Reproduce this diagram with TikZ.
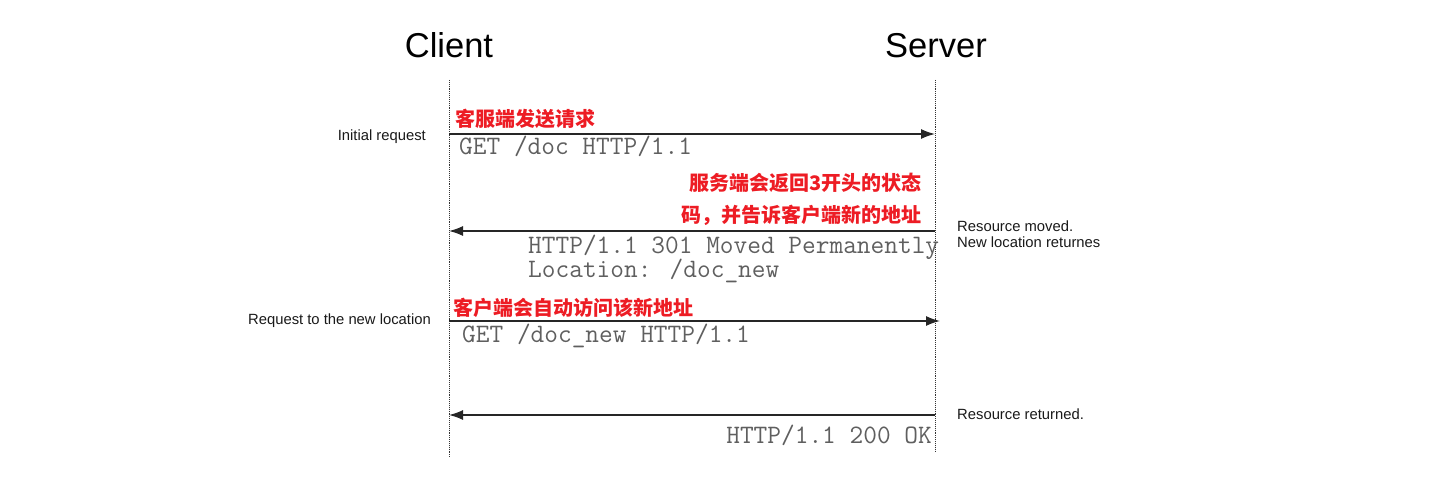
\documentclass[tikz,border=0pt]{standalone}
\usepackage{fontspec}
\setmainfont{Liberation Sans}
\newfontfamily\cjk{Noto Sans CJK SC}
\usetikzlibrary{arrows.meta}
\definecolor{redtxt}{RGB}{237,28,36}
\definecolor{codegray}{RGB}{95,95,95}
\tikzset{
 lifeline/.style={line width=0.9pt, densely dotted, draw=black!80},
 msg/.style={line width=1.4pt, draw=black!85, -{Latex[length=14pt,width=10pt]}},
 title/.style={font=\fontsize{34.5}{40}\selectfont, inner sep=0pt, anchor=base},
 note/.style={font=\fontsize{14.8}{17}\selectfont, inner sep=0pt, text=black!90},
 code/.style={font=\ttfamily\fontsize{26.6}{30}\selectfont, inner sep=0pt, text=codegray, anchor=base west},
 cn/.style={font=\cjk\bfseries\fontsize{20}{24}\selectfont, inner sep=0pt, text=redtxt},
}
\begin{document}
\begin{tikzpicture}[x=1pt,y=-1pt]
\useasboundingbox (0,0) rectangle (1434,497);
% titles
\node[title] (client) at (449,58) {Client};
\node[title] (server) at (936,58) {Server};
% lifelines
\coordinate (cTop) at (449,80); \coordinate (cBot) at (449,458);
\coordinate (sTop) at (935,80); \coordinate (sBot) at (935,452);
\draw[lifeline] (cTop) -- (cBot);
\draw[lifeline] (sTop) -- (sBot);
% message 1
\coordinate (c1) at (449,134); \coordinate (s1) at (935,134);
\draw[msg] (c1) -- (s1);
\node[cn, anchor=west] (r1) at (455,119) {客服端发送请求};
\node[code] (g1) at (459,155) {GET /doc HTTP/1.1};
\node[note, anchor=east] (n1) at (426,137) {Initial request};
% message 2
\coordinate (c2) at (449,231); \coordinate (s2) at (935,231);
\draw[msg] (s2) -- (c2);
\node[cn, anchor=east] (r2a) at (922,183) {服务端会返回3开头的状态};
\node[cn, anchor=east] (r2b) at (922,215) {码，并告诉客户端新的地址};
\node[code] (g2a) at (528,253) {HTTP/1.1 301 Moved Permanently};
\node[code] (g2b) at (528,277) {Location: /doc\_new};
\node[note, anchor=west] (n2a) at (957,226) {Resource moved.};
\node[note, anchor=west] (n2b) at (957,242) {New location returnes};
% message 3
\coordinate (c3) at (449,321); \coordinate (s3) at (940,321);
\draw[msg] (c3) -- (s3);
\node[cn, anchor=west] (r3) at (453,308) {客户端会自动访问该新地址};
\node[code] (g3) at (462,342) {GET /doc\_new HTTP/1.1};
\node[note, anchor=east] (n3) at (431,321) {Request to the new location};
% message 4
\coordinate (c4) at (449,415); \coordinate (s4) at (935,415);
\draw[msg] (s4) -- (c4);
\node[code, anchor=base east] (g4) at (932,443) {HTTP/1.1 200 OK};
\node[note, anchor=west] (n4) at (957,414) {Resource returned.};
\end{tikzpicture}
\end{document}
